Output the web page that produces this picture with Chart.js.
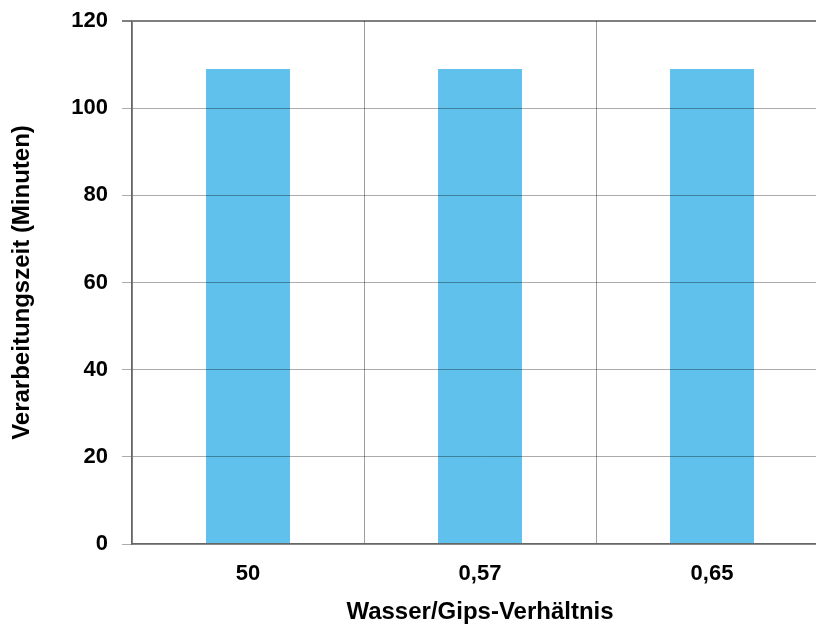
<!DOCTYPE html>
<html>
<head>
<meta charset="utf-8">
<script src="https://cdn.jsdelivr.net/npm/chart.js@4.4.1/dist/chart.umd.min.js"></script>
<style>
html,body{margin:0;padding:0;background:#fff;overflow:hidden;width:816px;height:625px;}
#wrap{width:833px;height:625px;}
</style>
</head>
<body>
<div id="wrap"><canvas id="c" width="833" height="625"></canvas></div>
<script>
const categories = ["50", "0,57", "0,65"];
const processingTime = [109, 109, 109];
const yTicks = [0, 20, 40, 60, 80, 100, 120];
const xTitle = "Wasser/Gips-Verhältnis";
const yTitle = "Verarbeitungszeit (Minuten)";

const FONT = "'Liberation Sans', Arial, Helvetica, sans-serif";

new Chart(document.getElementById('c'), {
  type: 'bar',
  data: {
    labels: categories,
    datasets: [{
      data: processingTime,
      backgroundColor: '#60C1EC',
      borderWidth: 0,
      barPercentage: 0.362,
      categoryPercentage: 1.0
    }]
  },
  options: {
    responsive: false,
    devicePixelRatio: 1,
    animation: false,
    layout: { padding: { left: 0, top: 21, right: 5, bottom: 0 } },
    plugins: { legend: { display: false }, tooltip: { enabled: false } },
    scales: {
      x: {
        offset: true,
        grid: {
          display: true,
          offset: true,
          drawTicks: false,
          color: 'rgba(0,0,0,0.38)',
          lineWidth: 1,
          z: 1
        },
        border: { display: true, color: '#666', width: 1.5, z: 2 },
        ticks: {
          color: '#000',
          padding: 17,
          font: { family: FONT, size: 22, weight: 'bold' }
        },
        title: {
          display: true,
          text: xTitle,
          color: '#000',
          padding: { top: 0, bottom: -2 },
          font: { family: FONT, size: 24, weight: 'bold' }
        },
        afterFit: (s) => { s.height = 81; s.paddingLeft = 0; s.paddingRight = 0; }
      },
      y: {
        min: 0,
        max: 120,
        afterBuildTicks: (s) => { s.ticks = yTicks.map(v => ({ value: v })); },
        grid: {
          color: (ctx) => ctx.index === yTicks.length - 1 ? 'rgba(0,0,0,0.5)' : 'rgba(0,0,0,0.33)',
          lineWidth: (ctx) => ctx.index === yTicks.length - 1 ? 2 : 1,
          tickLength: 10,
          drawTicks: true,
          z: 1
        },
        border: { display: true, color: '#666', width: 1.5, z: 2 },
        ticks: {
          color: '#000',
          padding: 14,
          font: { family: FONT, size: 22, weight: 'bold' }
        },
        title: {
          display: true,
          text: yTitle,
          color: '#000',
          padding: { top: 8, bottom: 0 },
          font: { family: FONT, size: 24, weight: 'bold' }
        },
        afterFit: (s) => { s.width = 132; s.paddingTop = 0; s.paddingBottom = 0; }
      }
    }
  }
});
</script>
</body>
</html>
